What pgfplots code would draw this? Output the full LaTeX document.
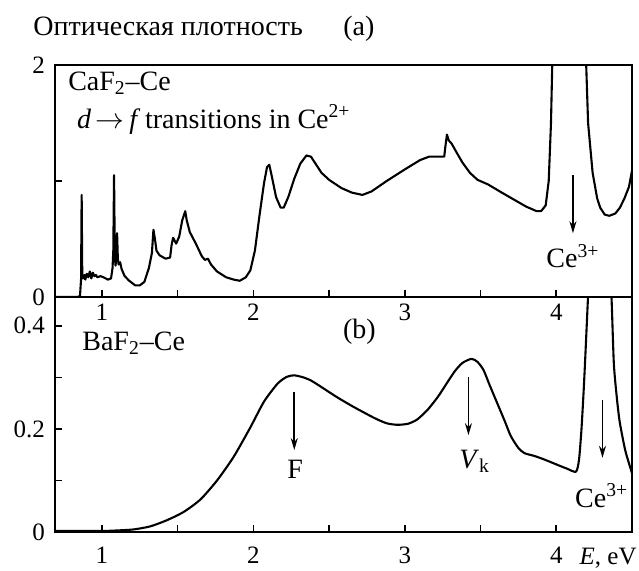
\documentclass[border=0pt]{standalone}
\usepackage{fontspec}
\setmainfont{Liberation Serif}
\usepackage{pgfplots}
\pgfplotsset{compat=1.18}
\usetikzlibrary{arrows.meta}

\newcommand\ann{\fontsize{14}{16}\selectfont}
\newcommand\tkf{\fontsize{12.5}{14}\selectfont}

\pgfplotsset{
  panel/.style={
    scale only axis, width=288.5pt,
    xmin=0.69, xmax=4.5,
    axis line style={line width=0.9pt},
    tick style={line width=0.8pt, black},
    major tick length=3.5pt, minor tick length=3.5pt,
    tick align=inside, xtick pos=bottom, ytick pos=left,
    xtick={1,2,3,4}, minor xtick={1.5,2.5,3.5},
    xticklabel style={font=\tkf},
    yticklabel style={font=\tkf, xshift=-1.5pt},
    /pgf/number format/assume math mode=true,
  },
}
\tikzset{
  curve/.style={black, line width=1.05pt, line join=round},
  arr/.style={-{Stealth[length=6pt,width=3.5pt]}, line width=0.8pt},
}

\begin{document}
\begin{tikzpicture}
% (a) CaF2-Ce
\begin{axis}[panel, name=a, height=116pt,
  ymin=0, ymax=2, ytick={0,2}, minor ytick={1}]
\addplot[curve, no marks] coordinates {
(0.69,0.0)(0.84,0.0)(0.855,0.01)(0.862,0.15)(0.866,0.88)(0.870,0.20)(0.875,0.16)
(0.885,0.19)(0.89,0.15)(0.90,0.20)(0.91,0.17)(0.92,0.22)(0.93,0.16)(0.94,0.21)
(0.95,0.18)(0.96,0.19)(0.97,0.17)(0.99,0.18)(1.01,0.17)(1.04,0.15)(1.06,0.16)
(1.07,0.25)(1.075,0.4)(1.08,1.05)(1.085,0.35)(1.09,0.27)(1.095,0.35)(1.10,0.55)
(1.105,0.33)(1.11,0.28)(1.12,0.30)(1.13,0.24)(1.15,0.18)(1.18,0.14)(1.22,0.10)
(1.25,0.10)(1.28,0.13)(1.31,0.25)(1.33,0.38)(1.34,0.58)(1.35,0.50)(1.36,0.40)
(1.38,0.36)(1.42,0.33)(1.45,0.34)(1.46,0.45)(1.47,0.51)(1.49,0.46)(1.51,0.52)
(1.53,0.66)(1.55,0.74)(1.56,0.66)(1.58,0.56)(1.62,0.46)(1.66,0.35)(1.68,0.32)
(1.70,0.33)(1.72,0.28)(1.76,0.22)(1.82,0.17)(1.87,0.15)(1.91,0.14)(1.95,0.17)
(1.98,0.23)(2.01,0.40)(2.04,0.70)(2.07,0.98)(2.09,1.12)(2.105,1.14)(2.12,1.05)
(2.15,0.86)(2.18,0.77)(2.20,0.77)(2.23,0.86)(2.27,1.02)(2.31,1.15)(2.35,1.22)
(2.38,1.21)(2.41,1.15)(2.45,1.07)(2.50,1.01)(2.58,0.94)(2.65,0.90)(2.72,0.88)
(2.78,0.91)(2.88,1.00)(3.00,1.10)(3.10,1.18)(3.16,1.21)(3.22,1.21)(3.26,1.21)
(3.268,1.30)(3.278,1.40)(3.29,1.35)(3.31,1.32)(3.34,1.25)(3.38,1.16)(3.43,1.07)
(3.48,1.01)(3.55,0.97)(3.64,0.90)(3.72,0.84)(3.80,0.78)(3.87,0.74)(3.90,0.74)
(3.93,0.79)(3.95,1.00)(3.965,1.50)(3.975,2.1)(3.99,3)(4.18,3)(4.195,2.1)
(4.21,1.50)(4.24,1.07)(4.27,0.85)(4.29,0.77)(4.32,0.71)(4.35,0.70)(4.39,0.72)
(4.42,0.77)(4.45,0.85)(4.48,0.95)(4.50,1.09)
};
\node[anchor=base west, inner sep=0, font=\ann] at (axis cs:0.775,1.78) {CaF\textsubscript{2}--Ce};
\node[anchor=base west, inner sep=0, font=\ann] at (axis cs:0.834,1.455) {\textit{d}\,$\rightarrow$\,\textit{f}\,transitions in Ce\textsuperscript{2+}};
\draw[arr] (axis cs:4.11,1.05) -- (axis cs:4.11,0.55);
\node[anchor=base, inner sep=0, font=\ann] at (axis cs:4.11,0.25) {Ce\textsuperscript{3+}};
\end{axis}

% (b) BaF2-Ce
\begin{axis}[panel, name=b, height=117.5pt, at={(a.south west)}, anchor=north west,
  ymin=0, ymax=0.456, ytick={0,0.2,0.4}, minor ytick={0.1,0.3},
  xticklabel style={yshift=-3.8pt}]
\addplot[curve, no marks, smooth, tension=0.4] coordinates {
(0.69,0.002)(1.0,0.002)(1.1,0.003)(1.21,0.005)(1.32,0.011)(1.43,0.023)(1.54,0.039)
(1.65,0.063)(1.76,0.10)(1.87,0.146)(1.98,0.203)(2.07,0.253)(2.16,0.288)(2.22,0.301)
(2.27,0.304)(2.33,0.300)(2.38,0.294)(2.44,0.283)(2.55,0.262)(2.66,0.243)(2.80,0.221)
(2.88,0.211)(2.95,0.208)(3.02,0.210)(3.08,0.218)(3.15,0.237)(3.22,0.263)(3.28,0.290)
(3.33,0.312)(3.38,0.328)(3.44,0.336)(3.48,0.330)(3.52,0.314)(3.56,0.285)(3.61,0.250)
(3.66,0.215)(3.70,0.186)(3.75,0.163)(3.79,0.153)(3.85,0.148)(3.90,0.143)(3.96,0.136)
(4.01,0.130)(4.07,0.123)(4.13,0.117)(4.15,0.14)(4.166,0.198)(4.18,0.27)(4.19,0.33)
(4.21,0.46)(4.23,0.6)(4.34,0.6)(4.364,0.46)(4.38,0.327)(4.40,0.26)(4.417,0.217)
(4.44,0.18)(4.46,0.153)(4.50,0.114)
};
\node[anchor=base west, inner sep=0, font=\ann] at (axis cs:0.868,0.353) {BaF\textsubscript{2}--Ce};
\node[anchor=base west, inner sep=0, font=\ann] at (axis cs:2.59,0.376) {(b)};
\draw[arr] (axis cs:2.27,0.272) -- (axis cs:2.27,0.159);
\node[anchor=base, inner sep=0, font=\ann] at (axis cs:2.275,0.103) {F};
\draw[arr] (axis cs:3.42,0.301) -- (axis cs:3.42,0.188);
\node[anchor=base west, inner sep=0, font=\ann] at (axis cs:3.357,0.124) {\textit{V}\textsubscript{k}};
\draw[arr] (axis cs:4.305,0.256) -- (axis cs:4.305,0.144);
\node[anchor=base, inner sep=0, font=\ann] at (axis cs:4.30,0.0485) {Ce\textsuperscript{3+}};
\end{axis}

\node[anchor=base west, inner sep=0, font=\ann] at ([xshift=-11pt,yshift=15pt]a.north west) {Оптическая плотность};
\node[anchor=base west, inner sep=0, font=\ann] at ([xshift=144pt,yshift=15pt]a.north west) {(a)};
\node[anchor=base east, inner sep=0, font=\tkf] at ([xshift=2.5pt,yshift=-16.5pt]b.south east) {\textit{E}, eV};
\path ([xshift=-27.5pt,yshift=32.5pt]a.north west) -- ([xshift=3.5pt,yshift=-18pt]b.south east);
\end{tikzpicture}
\end{document}
